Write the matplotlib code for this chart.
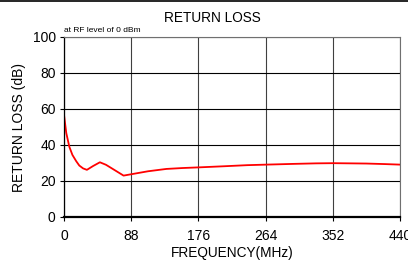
import numpy as np
import matplotlib.pyplot as plt
from matplotlib.lines import Line2D

plt.rcParams['font.family'] = ['Liberation Sans', 'DejaVu Sans']

freq = [0, 3, 7, 11, 16, 20, 25, 30, 38, 47, 55, 65, 78, 90, 110, 134, 155, 178, 210, 240, 265, 300, 330, 352, 375, 396, 420, 440]
rloss = [56.8, 46.6, 39.0, 34.5, 31.0, 28.6, 27.0, 26.2, 28.3, 30.4, 29.0, 26.4, 23.0, 23.9, 25.4, 26.7, 27.2, 27.6, 28.2, 28.8, 29.1, 29.5, 29.8, 29.9, 29.8, 29.7, 29.4, 29.1]
xticks = [0, 88, 176, 264, 352, 440]
yticks = [0, 20, 40, 60, 80, 100]

fig = plt.figure(figsize=(4.08, 2.62), dpi=100)
ax = fig.add_axes([64/408, 1-217/262, 336/408, 180/262])

ax.plot(freq, rloss, color='red', lw=1.3)
ax.set_xlim(0, 440)
ax.set_ylim(0, 100)
ax.set_xticks(xticks)
ax.set_yticks(yticks)
ax.grid(True, axis='y', color='black', lw=0.8)
ax.grid(True, axis='x', color='#404040', lw=0.8)
ax.tick_params(direction='out', length=3, labelsize=10, width=0.8)
ax.tick_params(axis='x', pad=6)
ax.tick_params(axis='y', pad=3)
for s in ['top', 'right']:
    ax.spines[s].set_color('#707070')
    ax.spines[s].set_linewidth(0.8)
ax.spines['left'].set_linewidth(0.9)
ax.spines['bottom'].set_linewidth(1.6)
ax.set_axisbelow(True)

fig.text(212/408, 1-18/262, 'RETURN LOSS', fontsize=9.8, ha='center', va='center')
ax.set_xlabel('FREQUENCY(MHz)', fontsize=9.8, labelpad=2)
ax.set_ylabel('RETURN LOSS (dB)', fontsize=10, labelpad=5)
ax.text(0, 101.5, 'at RF level of 0 dBm', fontsize=6, va='bottom', ha='left')

fig.add_artist(Line2D([0, 1], [0.998, 0.998], color='black', lw=1.2, transform=fig.transFigure))

fig.savefig('out.png', dpi=100)
